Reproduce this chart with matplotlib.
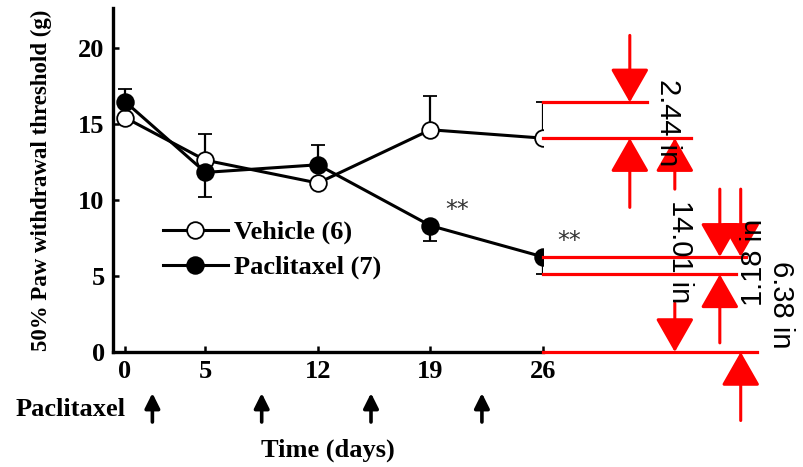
import numpy as np
import matplotlib.pyplot as plt

# Data
days = [0, 5, 12, 19, 26]
vehicle_mean = [15.4, 12.6, 11.1, 14.6, 14.05]
vehicle_err_lo = [0.35, 0, 0.35, 0, 0]
vehicle_err_hi = [0, 1.7, 0, 2.2, 2.35]
pac_mean = [16.45, 11.8, 12.3, 8.3, 6.25]
pac_err_lo = [0, 1.6, 0, 1.0, 1.15]
pac_err_hi = [0.85, 0, 1.3, 0, 0]
dose_days = [1.7, 8.5, 15.3, 22.2]
sig_days = [19, 26]
sig_marks = ['**', '**']

# red measuring overlay (data y levels, x extents in days)
red_levels = [16.4, 14.05, 6.25, 5.1, 0]
red_ends = [32.5, 35.2, 38.6, 38.0, 39.3]
# dimension arrows: x, (tail, tip) pairs
dims = [
    (31.4, [(20.8, 16.4), (9.5, 14.05)]),
    (34.2, [(10.7, 14.05), (3.2, 0)]),
    (37.0, [(10.7, 6.25), (0.6, 5.1)]),
    (38.3, [(10.7, 6.25), (-4.5, 0)]),
]
dim_labels = ['2.44 in', '14.01 in', '1.18 in', '6.38 in']
dim_label_pos = [(33.8, 15.1, -90), (34.5, 6.6, -90), (39.1, 5.9, 90), (40.8, 3.1, -90)]

serif = 'Liberation Serif'
fig = plt.figure(figsize=(8.04, 4.67), dpi=100)
ax = fig.add_axes([113 / 804, 115 / 467, 430 / 804, 344 / 467])

common = dict(color='black', lw=2.2, markersize=12, markeredgewidth=1.3,
              capsize=4.7, capthick=1.6, elinewidth=1.6)
eb_v = ax.errorbar(days, vehicle_mean, yerr=[vehicle_err_lo, vehicle_err_hi],
                   marker='o', markerfacecolor='white', markeredgecolor='black',
                   label='Vehicle (6)', zorder=3, **common)
eb_p = ax.errorbar(days, pac_mean, yerr=[pac_err_lo, pac_err_hi],
                   marker='o', markerfacecolor='black', markeredgecolor='black',
                   label='Paclitaxel (7)', zorder=4, **common)

for d, s in zip(sig_days, sig_marks):
    i = days.index(d)
    ax.text(d + 0.9, pac_mean[i] + 0.25, s, fontsize=17, color='#333333',
            family='DejaVu Sans', ha='left', va='bottom')

ax.set_xlim(-0.75, 26)
ax.set_ylim(0, 22.6)
ax.set_xticks(days)
ax.set_yticks([0, 5, 10, 15, 20])
for sp in ['top', 'right']:
    ax.spines[sp].set_visible(False)
for sp in ['left', 'bottom']:
    ax.spines[sp].set_linewidth(2.4)
ax.tick_params(direction='in', length=4.5, width=1.8, pad=6, labelsize=19)
for lab in ax.get_xticklabels() + ax.get_yticklabels():
    lab.set_family(serif)
    lab.set_weight('bold')

ax.set_ylabel('50% Paw withdrawal threshold (g)', family=serif, weight='bold',
              fontsize=16.5, labelpad=19)
ax.set_xlabel('Time (days)', family=serif, weight='bold', fontsize=19, labelpad=40)

# dosing arrows below the axis
for d in dose_days:
    ax.annotate('', xy=(d, -2.7), xytext=(d, -4.6), annotation_clip=False,
                arrowprops=dict(arrowstyle='-|>,head_length=9,head_width=4.5',
                                mutation_scale=1, color='black', lw=2.6,
                                shrinkA=0, shrinkB=0))
ax.text(-6.8, -3.75, 'Paclitaxel', family=serif, weight='bold', fontsize=19,
        ha='left', va='center', clip_on=False)

leg = ax.legend(handles=[eb_v[0], eb_p[0]], labels=['Vehicle (6)', 'Paclitaxel (7)'],
                loc='center left', bbox_to_anchor=(0.116, 0.297), frameon=False,
                borderpad=0, borderaxespad=0, handlelength=2.45, handletextpad=0.25,
                labelspacing=0.42, prop={'family': serif, 'weight': 'bold', 'size': 19})

# red measurement overlay
for lvl, end in zip(red_levels, red_ends):
    ax.plot([26, end], [lvl, lvl], color='red', lw=2.3, clip_on=False, zorder=6)
for x, pairs in dims:
    for tail, tip in pairs:
        ax.annotate('', xy=(x, tip), xytext=(x, tail), annotation_clip=False,
                    arrowprops=dict(arrowstyle='-|>,head_length=21,head_width=12',
                                    mutation_scale=1, color='red', lw=2.2,
                                    shrinkA=0, shrinkB=0), zorder=6)
for txt, (x, y, rot) in zip(dim_labels, dim_label_pos):
    ax.text(x, y, txt, family='Liberation Sans', fontsize=21, rotation=rot,
            ha='center', va='center', clip_on=False, zorder=7)

fig.savefig('out.png', dpi=100)
